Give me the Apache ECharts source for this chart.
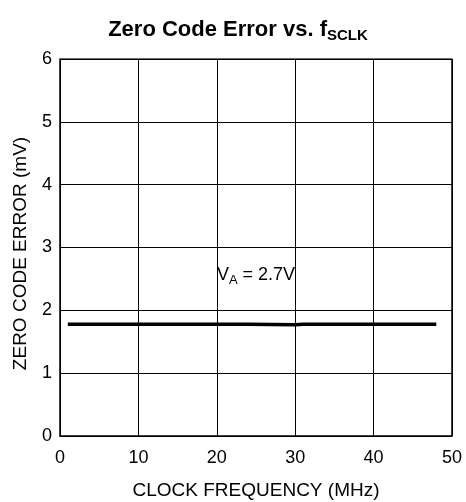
<!DOCTYPE html>
<html>
<head>
<meta charset="utf-8">
<script src="https://cdn.jsdelivr.net/npm/echarts@6/dist/echarts.min.js"></script>
<style>
  html, body { margin: 0; padding: 0; background: #fff; }
  #chart { width: 466px; height: 502px; }
</style>
</head>
<body>
<div id="chart"></div>
<script>
  // data
  var freqMHz = [1, 10, 20, 24, 24, 30, 31, 40, 48]
  var zeroErr = [1.78, 1.78, 1.78, 1.78, 1.77, 1.77, 1.78, 1.78, 1.78]
  var xTicks = [0, 10, 20, 30, 40, 50]
  var yTicks = [0, 1, 2, 3, 4, 5, 6]
  var labelPos = [25, 2.56]

  var font = 'Liberation Sans, Arial, sans-serif'
  var chart = echarts.init(document.getElementById('chart'))

  chart.setOption({
    backgroundColor: '#fff',
    animation: false,
    title: {
      text: '{m|Zero Code Error vs. f}{s|SCLK}',
      left: 233,
      textAlign: 'center',
      top: 11,
      textStyle: {
        rich: {
          m: { fontFamily: font, fontSize: 22, fontWeight: 'bold', color: '#000' },
          s: { fontFamily: font, fontSize: 15, fontWeight: 'bold', color: '#000', padding: [12, 0, 0, 0] }
        }
      }
    },
    grid: { left: 60, right: 14, top: 59, bottom: 66, outerBoundsMode: 'none', containLabel: false },
    xAxis: {
      type: 'value',
      min: xTicks[0],
      max: xTicks[xTicks.length - 1],
      interval: 10,
      name: 'CLOCK FREQUENCY (MHz)',
      nameLocation: 'middle',
      nameGap: 45,
      nameTextStyle: { fontFamily: font, fontSize: 19, color: '#000' },
      axisLine: { show: true, lineStyle: { color: '#000', width: 1.5 } },
      axisTick: { show: false },
      axisLabel: { fontFamily: font, fontSize: 18, color: '#000', margin: 13 },
      splitLine: { show: true, lineStyle: { color: '#000', width: 1 } }
    },
    yAxis: {
      type: 'value',
      min: yTicks[0],
      max: yTicks[yTicks.length - 1],
      interval: 1,
      name: 'ZERO CODE ERROR (mV)',
      nameLocation: 'middle',
      nameGap: 30,
      nameTextStyle: { fontFamily: font, fontSize: 19, color: '#000', padding: [0, 12, 0, 0] },
      axisLine: { show: true, lineStyle: { color: '#000', width: 1.5 } },
      axisTick: { show: false },
      axisLabel: { fontFamily: font, fontSize: 18, color: '#000', margin: 8 },
      splitLine: { show: true, lineStyle: { color: '#000', width: 1 } }
    },
    series: [
      {
        type: 'line',
        data: freqMHz.map(function (f, i) { return [f, zeroErr[i]] }),
        symbol: 'none',
        lineStyle: { color: '#000', width: 3.5 },
        markPoint: {
          symbol: 'rect',
          symbolSize: [1, 1],
          itemStyle: { color: 'rgba(0,0,0,0)' },
          data: [{
            coord: labelPos,
            label: {
              show: true,
              position: 'inside',
              formatter: '{m|V}{s|A}{m| = 2.7V}',
              rich: {
                m: { fontFamily: font, fontSize: 18, color: '#000' },
                s: { fontFamily: font, fontSize: 13, color: '#000', padding: [10, 0, 0, 0] }
              }
            }
          }]
        }
      },
      {
        // right and top borders of the frame
        type: 'line',
        data: [[0, 6], [50, 6], [50, 0]],
        symbol: 'none',
        silent: true,
        lineStyle: { color: '#000', width: 1.5 }
      }
    ]
  })
</script>
</body>
</html>
